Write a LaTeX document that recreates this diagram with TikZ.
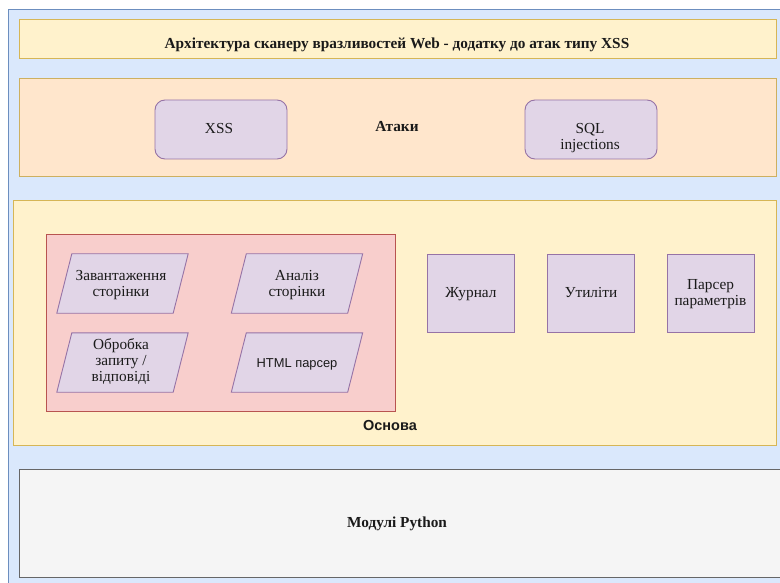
\documentclass[tikz,border=0pt]{standalone}
\usepackage{fontspec}
\setmainfont{Liberation Serif}
\setsansfont{Liberation Sans}
\definecolor{bgblue}{HTML}{DAE8FC}
\definecolor{bgblueline}{HTML}{6C8EBF}
\definecolor{yfill}{HTML}{FFF2CC}
\definecolor{yline}{HTML}{D6B656}
\definecolor{ofill}{HTML}{FFE6CC}
\definecolor{oline}{HTML}{CDB060}
\definecolor{pfill}{HTML}{E1D5E7}
\definecolor{pline}{HTML}{9673A6}
\definecolor{rfill}{HTML}{F8CECC}
\definecolor{rline}{HTML}{B85450}
\definecolor{gfill}{HTML}{F5F5F5}
\definecolor{gline}{HTML}{666666}
\definecolor{txtc}{HTML}{1A1A1A}
\begin{document}
\begin{tikzpicture}[x=1pt,y=-1pt,
  band/.style={rectangle, anchor=north west, inner sep=0, line width=0.9pt},
  serif/.style={font=\fontsize{15.3}{16}\selectfont, text=txtc, align=center, inner sep=0},
  serifb/.style={font=\bfseries\fontsize{15.3}{16}\selectfont, text=txtc, align=center, inner sep=0},
  sansb/.style={font=\sffamily\bfseries\fontsize{14.5}{16}\selectfont, text=txtc, align=center, inner sep=0},
  sansr/.style={font=\sffamily\fontsize{12.9}{16}\selectfont, text=txtc, align=center, inner sep=0},
  rbox/.style={rectangle, rounded corners=10pt, draw=pline, fill=pfill, line width=0.9pt, minimum width=132, minimum height=59, inner sep=0},
  sbox/.style={rectangle, draw=pline, fill=pfill, line width=0.9pt, minimum width=87, minimum height=78, inner sep=0},
  pframe/.style={rectangle, minimum width=116, minimum height=59, inner sep=0},
  pshape/.style={draw=pline, fill=pfill, line width=0.9pt, line join=miter}
]
\useasboundingbox (0,0) rectangle (780,583);
\clip (0,0) rectangle (780,583);
\fill[white] (0,0) rectangle (780,583);

% outer background
\node[band, draw=bgblueline, fill=bgblue, minimum width=782, minimum height=584] (outer) at (8,9) {};

% title band
\node[band, draw=yline, fill=yfill, minimum width=757, minimum height=39] (titleband) at (19,19) {};
\node[serifb, anchor=base] (title) at (397,48.5) {Архітектура сканеру вразливостей Web - додатку до атак типу XSS};

% attacks band
\node[band, draw=oline, fill=ofill, minimum width=757, minimum height=98] (attacks) at (19,78) {};
\node[serifb, anchor=base] (attlabel) at (397,132) {Атаки};
\node[rbox] (xss) at (221,129.5) {};
\node[serif, anchor=base] (xsstext) at (219,133.5) {XSS};
\node[rbox] (sql) at (591,129.5) {};
\node[serif] (sqltext) at (590,138) {SQL\\injections};

% base band
\node[band, draw=yline, fill=yfill, minimum width=763, minimum height=245] (osnova) at (13,200) {};
\node[sansb, anchor=base] (osnlabel) at (390,430) {Основа};
\node[band, draw=rline, fill=rfill, minimum width=349, minimum height=177] (core) at (46,234) {};

\node[pframe] (load) at (122.5,283.5) {};
\node[pframe] (anal) at (297,283.5) {};
\node[pframe] (req) at (122.5,362.5) {};
\node[pframe] (html) at (297,362.5) {};
\foreach \p in {load,anal,req,html}{
  \draw[pshape] ([xshift=7.5]\p.north west) -- ([xshift=7.5]\p.north east)
    -- ([xshift=-7.5]\p.south east) -- ([xshift=-7.5]\p.south west) -- cycle;
}
\node[serif] (loadtext) at (121,285) {Завантаження\\сторінки};
\node[serif] (analtext) at (297,285) {Аналіз\\сторінки};
\node[serif] (reqtext) at (121,362) {Обробка\\запиту /\\відповіді};
\node[sansr, anchor=base] (htmltext) at (297,367) {HTML парсер};

\node[sbox] (journal) at (471,293) {};
\node[serif, anchor=base] (journaltext) at (471,297.5) {Журнал};
\node[sbox] (util) at (590.5,293) {};
\node[serif, anchor=base] (utiltext) at (591,297.5) {Утиліти};
\node[sbox] (params) at (710.5,293) {};
\node[serif] (paramstext) at (710.5,294) {Парсер\\параметрів};

% python band
\node[band, draw=gline, fill=gfill, minimum width=765, minimum height=108] (python) at (19,469) {};
\node[serifb, anchor=base] (pylabel) at (397,527.5) {Модулі Python};
\end{tikzpicture}
\end{document}
